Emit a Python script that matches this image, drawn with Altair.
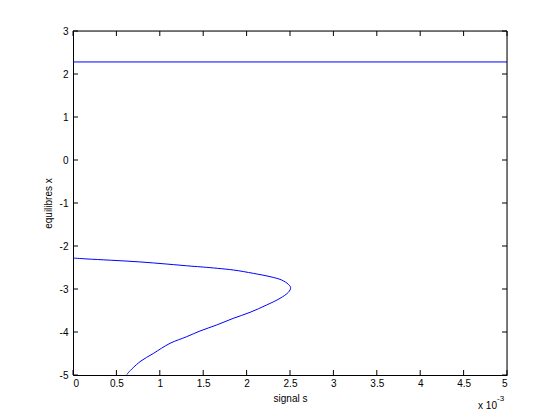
import altair as alt
import pandas as pd

# curve data (x in units of 1e-3)
curve_x = [0, 0.15, 0.43, 0.77, 1.08, 1.37, 1.5, 1.847, 2.077, 2.27, 2.404, 2.481, 2.508,
           2.481, 2.385, 2.231, 2.039, 1.847, 1.655, 1.463, 1.31, 1.118, 0.925, 0.772, 0.637, 0.622]
curve_y = [-2.28, -2.3, -2.33, -2.37, -2.42, -2.47, -2.49, -2.558, -2.636, -2.713, -2.791, -2.891, -2.969,
           -3.077, -3.217, -3.372, -3.543, -3.682, -3.837, -3.977, -4.109, -4.263, -4.5, -4.69, -4.946, -4.99]
upper_y = 2.28
x_ticks = [0, 0.5, 1, 1.5, 2, 2.5, 3, 3.5, 4, 4.5, 5]
y_ticks = [-5, -4, -3, -2, -1, 0, 1, 2, 3]

W, H = 434, 344
FONT = "Liberation Sans"

curve = pd.DataFrame({"x": curve_x, "y": curve_y, "i": range(len(curve_x))})
upper = pd.DataFrame({"x": [0, 5], "y": [upper_y, upper_y]})
xt = pd.DataFrame({"x": x_ticks})
yt = pd.DataFrame({"y": y_ticks})

xs = alt.Scale(domain=[0, 5], nice=False, zero=False)
ys = alt.Scale(domain=[-5, 3], nice=False, zero=False)

common = dict(tickSize=0, domain=True, domainColor="black", domainWidth=1, grid=False,
              labelFont=FONT, labelFontSize=10, labelColor="black",
              titleFont=FONT, titleFontSize=10, titleColor="black", titleFontWeight="normal")
xaxis = alt.Axis(values=x_ticks, labelExpr="toString(datum.value)", title="signal s",
                 labelPadding=3, titlePadding=5, **common)
yaxis = alt.Axis(values=y_ticks, labelExpr="toString(datum.value)", title="equilibres x",
                 labelPadding=5, titlePadding=6, **common)

line = alt.Chart(curve).mark_line(color="#0000ff", strokeWidth=1, interpolate="catmull-rom").encode(
    x=alt.X("x:Q", scale=xs, axis=xaxis),
    y=alt.Y("y:Q", scale=ys, axis=yaxis),
    order="i:Q",
)
top = alt.Chart(upper).mark_line(color="#0000ff", strokeWidth=1).encode(
    x=alt.X("x:Q", scale=xs), y=alt.Y("y:Q", scale=ys)
)

tb = alt.Chart(xt).mark_rule(color="black").encode(
    x=alt.X("x:Q", scale=xs), y=alt.value(H), y2=alt.value(H - 5))
tt = alt.Chart(xt).mark_rule(color="black").encode(
    x=alt.X("x:Q", scale=xs), y=alt.value(0), y2=alt.value(5))
tl = alt.Chart(yt).mark_rule(color="black").encode(
    y=alt.Y("y:Q", scale=ys), x=alt.value(0), x2=alt.value(5))
tr = alt.Chart(yt).mark_rule(color="black").encode(
    y=alt.Y("y:Q", scale=ys), x=alt.value(W), x2=alt.value(W - 5))

box_top = alt.Chart(pd.DataFrame({"a": [0]})).mark_rule(color="black").encode(
    x=alt.value(0), x2=alt.value(W), y=alt.value(0))
box_right = alt.Chart(pd.DataFrame({"a": [0]})).mark_rule(color="black").encode(
    x=alt.value(W), y=alt.value(0), y2=alt.value(H))

exp1 = alt.Chart(pd.DataFrame({"t": ["x 10"]})).mark_text(
    font=FONT, fontSize=10, align="right", baseline="middle", color="black"
).encode(text="t:N", x=alt.value(W - 10), y=alt.value(H + 31))
exp2 = alt.Chart(pd.DataFrame({"t": ["-3"]})).mark_text(
    font=FONT, fontSize=8, align="left", baseline="middle", color="black"
).encode(text="t:N", x=alt.value(W - 10), y=alt.value(H + 24))

chart = alt.layer(line, top, tb, tt, tl, tr, box_top, box_right, exp1, exp2).properties(
    width=W, height=H,
    autosize=alt.AutoSizeParams(type="none"),
    padding={"left": 65, "top": 23, "right": 45, "bottom": 37},
).configure_view(stroke=None).configure(background="white")

chart.save("out.html", embed_options={"renderer": "svg", "actions": False})
